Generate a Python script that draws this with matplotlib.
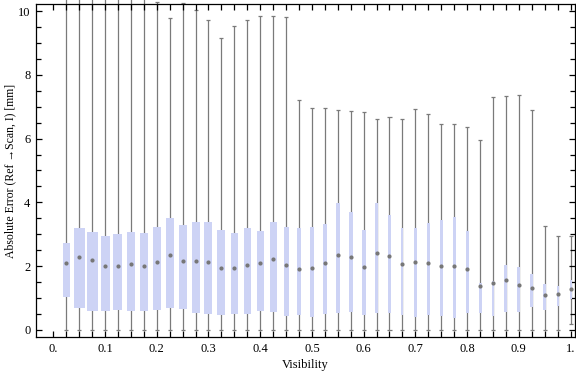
import matplotlib
matplotlib.use("Agg")
import matplotlib.pyplot as plt
import numpy as np

plt.rcParams['font.family'] = ['Liberation Serif', 'DejaVu Serif']

# bin positions (visibility), 40 bins of 0.025
positions = [0.025 * k for k in range(1, 41)]

whisker_low = [0.0] * 39 + [0.18]
whisker_high = [10.5, 10.5, 10.5, 10.5, 10.5, 10.5, 10.5, 10.27, 9.77, 10.24,
                10.02, 9.71, 9.14, 9.52, 9.71, 9.84, 9.84, 9.80, 7.21, 6.95,
                6.95, 6.89, 6.85, 6.82, 6.60, 6.67, 6.60, 6.92, 6.77, 6.45,
                6.45, 6.35, 5.95, 7.29, 7.33, 7.36, 6.89, 3.26, 2.95, 2.95]
q1 = [1.045, 0.70, 0.60, 0.60, 0.63, 0.60, 0.60, 0.63, 0.69, 0.66,
      0.53, 0.50, 0.47, 0.50, 0.51, 0.60, 0.56, 0.45, 0.48, 0.42,
      0.50, 0.54, 0.56, 0.47, 0.53, 0.54, 0.47, 0.42, 0.47, 0.45,
      0.39, 0.52, 0.52, 0.44, 0.56, 0.56, 0.71, 0.64, 0.76, 0.96]
q3 = [2.72, 3.20, 3.07, 2.95, 3.01, 3.07, 3.03, 3.23, 3.51, 3.29,
      3.39, 3.39, 3.13, 3.04, 3.20, 3.10, 3.39, 3.23, 3.20, 3.23,
      3.32, 3.97, 3.70, 3.13, 3.98, 3.60, 3.20, 3.20, 3.35, 3.45,
      3.54, 3.10, 1.48, 1.54, 2.04, 1.97, 1.77, 1.44, 1.38, 1.57]
median = [2.09, 2.28, 2.18, 2.01, 2.02, 2.06, 2.00, 2.13, 2.34, 2.16,
          2.15, 2.12, 1.95, 1.95, 2.05, 2.11, 2.24, 2.05, 1.91, 1.95,
          2.10, 2.36, 2.28, 1.97, 2.40, 2.32, 2.08, 2.13, 2.10, 2.02,
          2.02, 1.92, 1.38, 1.46, 1.57, 1.41, 1.33, 1.10, 1.14, 1.27]
# box widths (visibility units) - boxes get thinner toward high visibility
box_widths = [0.0141, 0.0212, 0.0212, 0.0174, 0.0174, 0.0155, 0.0155, 0.0155, 0.0155, 0.0155,
              0.0155, 0.0155, 0.0155, 0.0135, 0.0135, 0.0135, 0.0135, 0.0097, 0.0077, 0.0077,
              0.0077, 0.0077, 0.0077, 0.0077, 0.0058, 0.0058, 0.0039, 0.0058, 0.0058, 0.0058,
              0.0058, 0.0058, 0.0058, 0.0039, 0.0058, 0.0058, 0.0058, 0.0058, 0.0039, 0.0039]

xticks = [0.0, 0.1, 0.2, 0.3, 0.4, 0.5, 0.6, 0.7, 0.8, 0.9, 1.0]
xtick_labels = ['0.', '0.1', '0.2', '0.3', '0.4', '0.5', '0.6', '0.7', '0.8', '0.9', '1.']
yticks = [0, 2, 4, 6, 8, 10]

box_color = '#cdd3f5'
whisk_color = '#7a7a7a'

fig = plt.figure(figsize=(5.76, 3.77), dpi=100)
ax = fig.add_axes([0.0625, 0.1061, 0.9358, 0.8833])

pos = np.array(positions)
cap = 0.0039
ax.vlines(pos, whisker_low, whisker_high, color=whisk_color, lw=0.9, zorder=1, clip_on=False)
ax.hlines(whisker_low, pos - cap, pos + cap, color=whisk_color, lw=0.9, zorder=1, clip_on=False)
ax.hlines(whisker_high, pos - cap, pos + cap, color=whisk_color, lw=0.9, zorder=1, clip_on=False)
ax.bar(pos, np.array(q3) - np.array(q1), bottom=q1, width=box_widths,
       color=box_color, edgecolor='none', zorder=2)
ax.plot(pos, median, 'o', ms=3, color='#777777', mec='none', zorder=3)

ax.set_xlim(-0.0334, 1.0087)
ax.set_ylim(-0.22, 10.22)

ax.set_xticks(xticks)
ax.set_xticklabels(xtick_labels)
ax.set_xticks(np.arange(0, 1.0001, 0.025), minor=True)
ax.set_yticks(yticks)
ax.set_yticks(np.arange(0, 10.01, 0.5), minor=True)

ax.tick_params(which='both', direction='in', top=True, right=True, width=0.9,
               labelsize=9, colors='black', pad=4)
ax.tick_params(which='major', length=4)
ax.tick_params(which='minor', length=3.5)
ax.tick_params(axis='x', which='minor', length=4)
for s in ax.spines.values():
    s.set_linewidth(0.9)

ax.set_xlabel('Visibility', fontsize=9, labelpad=3)
ax.set_ylabel('Absolute Error (Ref \u2192Scan, I) [mm]', fontsize=8.5)
ax.yaxis.set_label_coords(-0.036, 0.5)

fig.savefig('out.png', dpi=100)
